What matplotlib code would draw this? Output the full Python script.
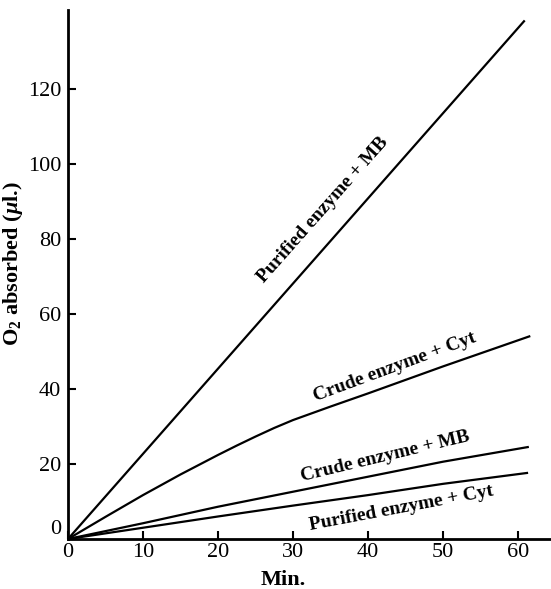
import matplotlib
matplotlib.use("Agg")
import matplotlib.pyplot as plt

# Data
minutes_pmb = [0, 60.8]
o2_pmb = [0, 138]

minutes_ccyt = [0, 5, 10, 15, 20, 22.5, 25, 27.5, 30, 35, 40, 50, 61.5]
o2_ccyt = [0, 5.9, 11.7, 17.2, 22.4, 24.9, 27.3, 29.6, 31.7, 35.3, 38.8, 46.0, 54.0]

minutes_cmb = [0, 10, 20, 30, 40, 50, 61.3]
o2_cmb = [0, 4.2, 8.6, 12.6, 16.6, 20.6, 24.5]

minutes_pcyt = [0, 10, 20, 30, 40, 50, 61.2]
o2_pcyt = [0, 3.0, 6.0, 8.9, 11.7, 14.7, 17.6]

xticks = [0, 10, 20, 30, 40, 50, 60]
yticks = [0, 20, 40, 60, 80, 100, 120]

plt.rcParams['font.family'] = ['Liberation Serif', 'DejaVu Serif']
plt.rcParams['mathtext.fontset'] = 'custom'
plt.rcParams['mathtext.rm'] = 'Liberation Serif'
plt.rcParams['mathtext.bf'] = 'Liberation Serif:bold'
plt.rcParams['mathtext.it'] = 'Liberation Serif:italic:bold'

fig = plt.figure(figsize=(5.51, 5.89), dpi=100)
ax = fig.add_axes([0.1234, 0.0849, 1 - 0.1234, 0.983 - 0.0849])

lw = 1.6
ax.plot(minutes_pmb, o2_pmb, color='black', lw=lw)
ax.plot(minutes_ccyt, o2_ccyt, color='black', lw=lw)
ax.plot(minutes_cmb, o2_cmb, color='black', lw=lw)
ax.plot(minutes_pcyt, o2_pcyt, color='black', lw=lw)

ax.set_xlim(0, 64.4)
ax.set_ylim(0, 141)
ax.set_xticks(xticks)
ax.set_yticks(yticks)

for s in ['top', 'right']:
    ax.spines[s].set_visible(False)
for s in ['left', 'bottom']:
    ax.spines[s].set_linewidth(2.0)

ax.tick_params(direction='in', length=6, width=1.5, labelsize=16, pad=3)
ax.tick_params(axis='y', pad=5)
ax.get_yticklabels()[0].set_verticalalignment('bottom')

ax.set_xlabel('Min.', fontsize=16, fontweight='bold')
ax.xaxis.set_label_coords(0.445, -0.058)
ax.set_ylabel(r'O$_\mathbf{2}$ absorbed ($\mu$l.)', fontsize=16, fontweight='bold')
ax.yaxis.set_label_coords(-0.09, 0.52)

fs = 14
ax.text(34.0, 87.7, 'Purified enzyme + MB', rotation=48.5, ha='center', va='center',
        fontsize=fs, fontweight='bold', rotation_mode='anchor')
ax.text(43.5, 45.9, 'Crude enzyme + Cyt', rotation=20.3, ha='center', va='center',
        fontsize=fs, fontweight='bold', rotation_mode='anchor')
ax.text(42.3, 21.9, 'Crude enzyme + MB', rotation=13.5, ha='center', va='center',
        fontsize=fs, fontweight='bold', rotation_mode='anchor')
ax.text(44.5, 8.3, 'Purified enzyme + Cyt', rotation=10.7, ha='center', va='center',
        fontsize=fs, fontweight='bold', rotation_mode='anchor')

fig.savefig('out.png', dpi=100)
